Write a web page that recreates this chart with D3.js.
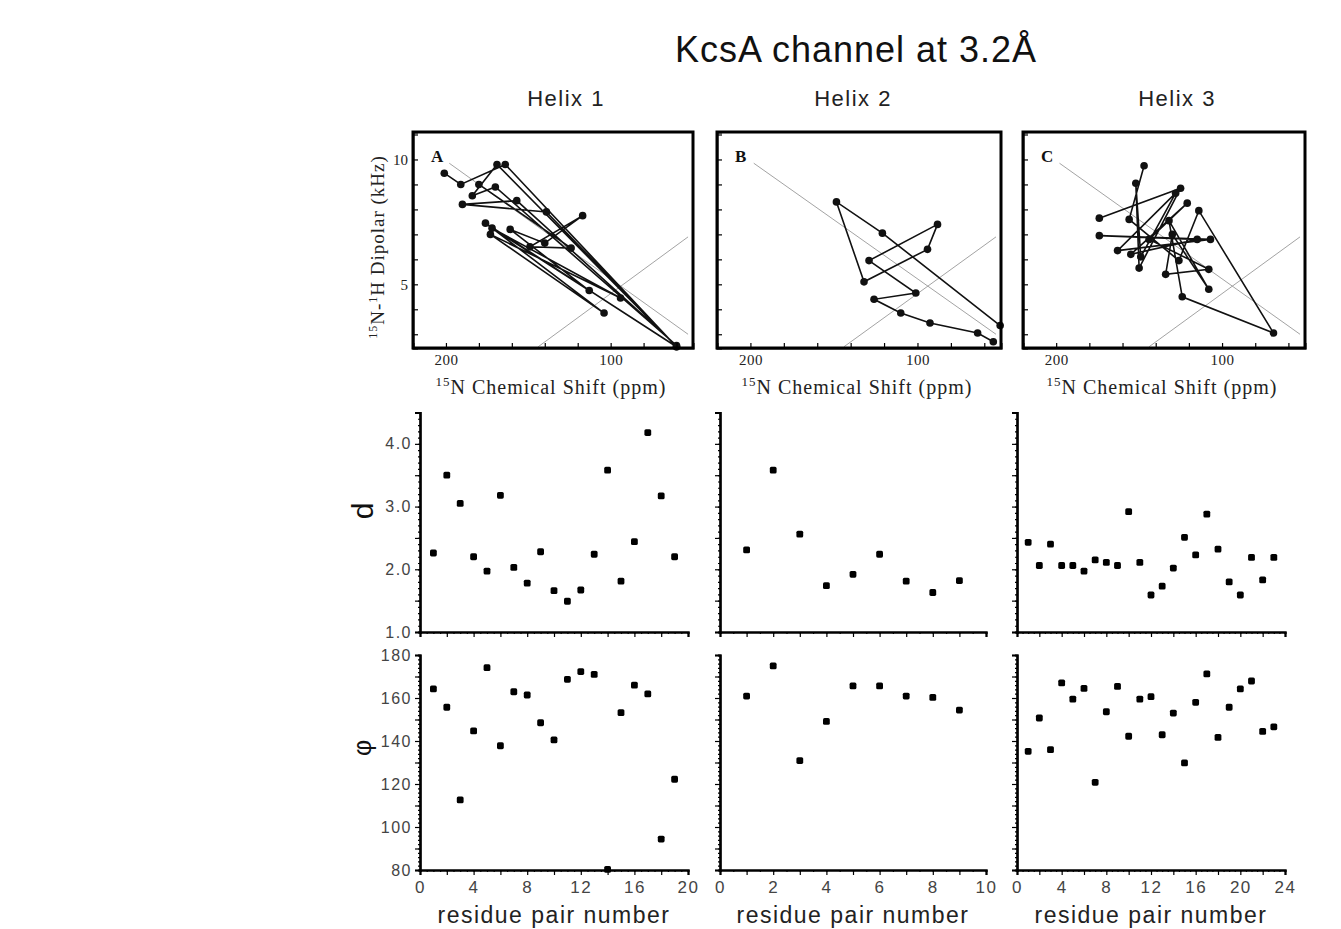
<!DOCTYPE html>
<html>
<head>
<meta charset="utf-8">
<script src="https://cdn.jsdelivr.net/npm/d3@7/dist/d3.min.js"></script>
<style>
  body { margin: 0; background: #fff; }
</style>
</head>
<body>
<svg id="chart" width="1341" height="929"></svg>
<script>
// ---- data ----
const helixNames = ["Helix 1", "Helix 2", "Helix 3"];
const panelLetters = ["A", "B", "C"];

// PISA wheels: [15N shift (ppm), 15N-1H dipolar (kHz)] in path order
const wheel1 = [
  [201, 9.45], [191, 9.0], [164, 9.8], [60, 2.5], [169, 9.8], [184, 8.55],
  [170, 8.9], [60, 2.55], [157, 8.35], [190, 8.2], [139, 7.9], [60, 2.5],
  [176, 7.45], [104, 3.85], [173, 7.0], [94, 4.45], [172, 7.25], [113, 4.75],
  [161, 7.2], [140, 6.65], [117, 7.75], [149, 6.5], [124, 6.45], [180, 9.0]
];
const wheel2 = [
  [50.5, 3.35], [121, 7.05], [148.5, 8.3], [132, 5.1], [94, 6.4], [88, 7.4],
  [129, 5.95], [101, 4.65], [126, 4.4], [110, 3.85], [92.5, 3.45], [64, 3.05],
  [54.6, 2.7]
];
const wheel3 = [
  [174, 7.65], [125, 8.85], [150, 5.65], [152, 9.05], [149, 6.1], [128, 8.65],
  [163, 6.35], [107, 6.8], [174, 6.95], [115, 6.8], [155, 6.2], [121, 8.25],
  [144, 6.8], [108, 5.6], [134, 5.4], [130, 7.0], [108, 4.8], [132, 7.55],
  [124, 4.5], [69, 3.05], [114, 7.95], [126, 5.95], [156, 7.6], [147, 9.75]
];
// reference lines in the PISA panels
const refLines = [
  [[198, 9.85], [53, 3.0]],
  [[144, 2.5], [53, 6.9]]
];

// residue pair numbers
const pairs1 = [1, 2, 3, 4, 5, 6, 7, 8, 9, 10, 11, 12, 13, 14, 15, 16, 17, 18, 19];
const pairs2 = [1, 2, 3, 4, 5, 6, 7, 8, 9];
const pairs3 = [1, 2, 3, 4, 5, 6, 7, 8, 9, 10, 11, 12, 13, 14, 15, 16, 17, 18, 19, 20, 21, 22, 23];

// d values
const dist1 = [2.26, 3.5, 3.05, 2.2, 1.97, 3.18, 2.03, 1.78, 2.28, 1.66, 1.49, 1.67, 2.24, 3.58, 1.81, 2.44, 4.18, 3.17, 2.2];
const dist2 = [2.31, 3.58, 2.56, 1.74, 1.92, 2.24, 1.81, 1.63, 1.82];
const dist3 = [2.43, 2.06, 2.4, 2.06, 2.06, 1.97, 2.15, 2.11, 2.06, 2.92, 2.11, 1.59, 1.73, 2.02, 2.51, 2.23, 2.88, 2.32, 1.8, 1.59, 2.19, 1.83, 2.19];

// phi values
const phi1 = [164.2, 155.7, 112.6, 144.7, 174.1, 137.8, 162.9, 161.4, 148.5, 140.5, 168.7, 172.3, 171.0, 80.3, 153.2, 166.0, 161.9, 94.4, 122.2];
const phi2 = [160.9, 174.9, 130.9, 149.1, 165.6, 165.6, 160.9, 160.3, 154.4];
const phi3 = [135.2, 150.7, 136.0, 167.0, 159.5, 164.5, 120.8, 153.6, 165.4, 142.2, 159.5, 160.6, 142.9, 153.0, 129.8, 158.0, 171.2, 141.7, 155.7, 164.2, 167.9, 144.5, 146.6];

// axes
const shiftDomain = [220, 50];
const dipolarDomain = [2.45, 11.1];
const shiftTicks = [200, 180, 160, 140, 120, 100, 80, 60];
const shiftLabels = [200, 100];
const dipolarTicks = [3, 4, 5, 6, 7, 8, 9, 10, 11];
const dipolarLabels = [5, 10];
const pairMax = [20, 10, 24];
const pairLabels = [[0, 4, 8, 12, 16, 20], [0, 2, 4, 6, 8, 10], [0, 4, 8, 12, 16, 20, 24]];
const dDomain = [1, 4.5];
const dMajor = [1, 1.5, 2, 2.5, 3, 3.5, 4, 4.5];
const phiDomain = [80, 180];

const wheels = [wheel1, wheel2, wheel3];
const pairs = [pairs1, pairs2, pairs3];
const dVals = [dist1, dist2, dist3];
const phiVals = [phi1, phi2, phi3];

// ---- layout ----
const serif = "'Liberation Serif', 'Times New Roman', serif";
const sans = "'Liberation Sans', Arial, Helvetica, sans-serif";
const topY = [348, 132];
const topX = [[413, 693], [717, 1001], [1023, 1305]];
const colX = [[420, 688], [720, 986], [1017, 1285]];
const midY = [632, 412.5];
const botY = [870, 655];

const svg = d3.select("#chart");

svg.append("text")
  .attr("x", 856).attr("y", 62)
  .attr("text-anchor", "middle")
  .style("font", "36px " + sans)
  .style("letter-spacing", "1px")
  .style("fill", "#111")
  .text("KcsA channel at 3.2Å");

var headerX = [566, 853, 1177];
helixNames.forEach(function(name, i) {
  svg.append("text")
    .attr("x", headerX[i]).attr("y", 106)
    .attr("text-anchor", "middle")
    .style("font", "22px " + sans)
    .style("letter-spacing", "1.5px")
    .style("fill", "#222")
    .text(name);
});

function styleAxis(g, width) {
  g.select(".domain").attr("stroke", "#000").attr("stroke-width", width || 2);
  g.selectAll(".tick line").attr("stroke", "#000").attr("stroke-width", 1.2);
}

// ---- PISA wheel panels ----
function drawWheel(i) {
  var g = svg.append("g");
  var x = d3.scaleLinear().domain(shiftDomain).range(topX[i]);
  var y = d3.scaleLinear().domain(dipolarDomain).range(topY);

  refLines.forEach(function(l) {
    g.append("line")
      .attr("x1", x(l[0][0])).attr("y1", y(l[0][1]))
      .attr("x2", x(l[1][0])).attr("y2", y(l[1][1]))
      .attr("stroke", "#999").attr("stroke-width", 0.9);
  });

  g.append("path")
    .datum(wheels[i])
    .attr("d", d3.line().x(function(d) { return x(d[0]); }).y(function(d) { return y(d[1]); }))
    .attr("fill", "none")
    .attr("stroke", "#111")
    .attr("stroke-width", 1.6);

  g.selectAll("circle.pt")
    .data(wheels[i])
    .join("circle")
    .attr("class", "pt")
    .attr("cx", function(d) { return x(d[0]); })
    .attr("cy", function(d) { return y(d[1]); })
    .attr("r", 3.8)
    .attr("fill", "#111");

  // inner ticks
  var bx = g.append("g").attr("transform", "translate(0," + topY[0] + ")")
    .call(d3.axisBottom(x).tickValues(shiftTicks).tickSize(-5).tickFormat(""));
  styleAxis(bx);
  var ly = g.append("g").attr("transform", "translate(" + topX[i][0] + ",0)")
    .call(d3.axisLeft(y).tickValues(dipolarTicks).tickSize(-5).tickFormat(""));
  styleAxis(ly);

  g.append("rect")
    .attr("x", topX[i][0]).attr("y", topY[1])
    .attr("width", topX[i][1] - topX[i][0])
    .attr("height", topY[0] - topY[1])
    .attr("fill", "none")
    .attr("stroke", "#000")
    .attr("stroke-width", 3);

  // tick labels
  var lab = g.append("g").attr("transform", "translate(0," + topY[0] + ")")
    .call(d3.axisBottom(x).tickValues(shiftLabels).tickSize(0).tickPadding(6).tickFormat(d3.format("d")));
  lab.select(".domain").remove();
  lab.selectAll("text").style("font", "15px " + serif).style("letter-spacing", "0.5px").attr("fill", "#222");

  if (i === 0) {
    var yl = g.append("g").attr("transform", "translate(" + (topX[i][0] - 2) + ",0)")
      .call(d3.axisLeft(y).tickValues(dipolarLabels).tickSize(0).tickPadding(3).tickFormat(d3.format("d")));
    yl.select(".domain").remove();
    yl.selectAll("text").style("font", "15px " + serif).attr("fill", "#222");

    var yt = g.append("text")
      .attr("transform", "translate(384,247) rotate(-90)")
      .attr("text-anchor", "middle")
      .style("font", "19px " + serif)
      .style("letter-spacing", "1px")
      .attr("fill", "#222");
    yt.append("tspan").attr("dy", -7).style("font-size", "12px").text("15");
    yt.append("tspan").attr("dy", 7).text("N-");
    yt.append("tspan").attr("dy", -7).style("font-size", "12px").text("1");
    yt.append("tspan").attr("dy", 7).text("H Dipolar (kHz)");
  }

  var xt = g.append("text")
    .attr("x", (topX[i][0] + topX[i][1]) / 2 - 2).attr("y", 394)
    .attr("text-anchor", "middle")
    .style("font", "20px " + serif)
    .style("letter-spacing", "1px")
    .attr("fill", "#222");
  xt.append("tspan").attr("dy", -8).style("font-size", "13px").text("15");
  xt.append("tspan").attr("dy", 8).text("N Chemical Shift (ppm)");

  g.append("text")
    .attr("x", topX[i][0] + 18).attr("y", topY[1] + 30)
    .style("font", "bold 17px " + serif)
    .attr("fill", "#111")
    .text(panelLetters[i]);
}

// ---- scatter panels (d and phi) ----
function drawScatter(i, vals, domain, yRange, major, minor, labelFn, showX) {
  var g = svg.append("g");
  var x = d3.scaleLinear().domain([0, pairMax[i]]).range(colX[i]);
  var y = d3.scaleLinear().domain(domain).range(yRange);

  var xMajor = pairMax[i] === 10 ? x.ticks(10) : x.ticks(pairMax[i] / 2);
  var xm = g.append("g").attr("transform", "translate(0," + yRange[0] + ")")
    .call(d3.axisBottom(x).tickValues(x.ticks(pairMax[i] * 2)).tickSize(2).tickFormat(""));
  styleAxis(xm, 2.2);
  var xM = g.append("g").attr("transform", "translate(0," + yRange[0] + ")")
    .call(d3.axisBottom(x).tickValues(xMajor).tickSize(5).tickFormat(""));
  styleAxis(xM, 2.2);

  var ym = g.append("g").attr("transform", "translate(" + colX[i][0] + ",0)")
    .call(d3.axisLeft(y).tickValues(minor).tickSize(2).tickFormat(""));
  styleAxis(ym, 2.2);
  var yM = g.append("g").attr("transform", "translate(" + colX[i][0] + ",0)")
    .call(d3.axisLeft(y).tickValues(major).tickSize(5)
      .tickFormat(i === 0 ? labelFn : function() { return ""; }));
  styleAxis(yM, 2.2);
  yM.selectAll("text").style("font", "16px " + sans).style("letter-spacing", "1.5px").attr("fill", "#444");

  if (showX) {
    var xl = g.append("g").attr("transform", "translate(0," + yRange[0] + ")")
      .call(d3.axisBottom(x).tickValues(pairLabels[i]).tickSize(0).tickPadding(11).tickFormat(d3.format("d")));
    xl.select(".domain").remove();
    xl.selectAll("text").style("font", "17px " + sans).style("letter-spacing", "1.5px").attr("fill", "#444");

    g.append("text")
      .attr("x", (colX[i][0] + colX[i][1]) / 2).attr("y", 923)
      .attr("text-anchor", "middle")
      .style("font", "23px " + sans)
      .style("letter-spacing", "1.5px")
      .attr("fill", "#222")
      .text("residue pair number");
  }

  g.selectAll("rect.pt")
    .data(vals)
    .join("rect")
    .attr("class", "pt")
    .attr("x", function(d, k) { return x(pairs[i][k]) - 3.4; })
    .attr("y", function(d) { return y(d) - 3.4; })
    .attr("width", 6.8).attr("height", 6.8)
    .attr("rx", 1.6)
    .attr("fill", "#000");
}

for (var i = 0; i < 3; i++) {
  drawWheel(i);
  var yd = d3.scaleLinear().domain(dDomain);
  drawScatter(i, dVals[i], dDomain, midY, dMajor, yd.ticks(35),
    function(d) { return Number.isInteger(d) ? d.toFixed(1) : ""; }, false);
  var yp = d3.scaleLinear().domain(phiDomain);
  drawScatter(i, phiVals[i], phiDomain, botY, yp.ticks(10), yp.ticks(50),
    function(d) { return d % 20 === 0 ? d : ""; }, true);
}

// y titles of scatter rows
svg.append("text")
  .attr("transform", "translate(373,511) rotate(-90)")
  .attr("text-anchor", "middle")
  .style("font", "30px " + sans)
  .attr("fill", "#111")
  .text("d");
svg.append("text")
  .attr("transform", "translate(371,748) rotate(-90)")
  .attr("text-anchor", "middle")
  .style("font", "25px " + sans)
  .attr("fill", "#111")
  .text("φ");
</script>
</body>
</html>
